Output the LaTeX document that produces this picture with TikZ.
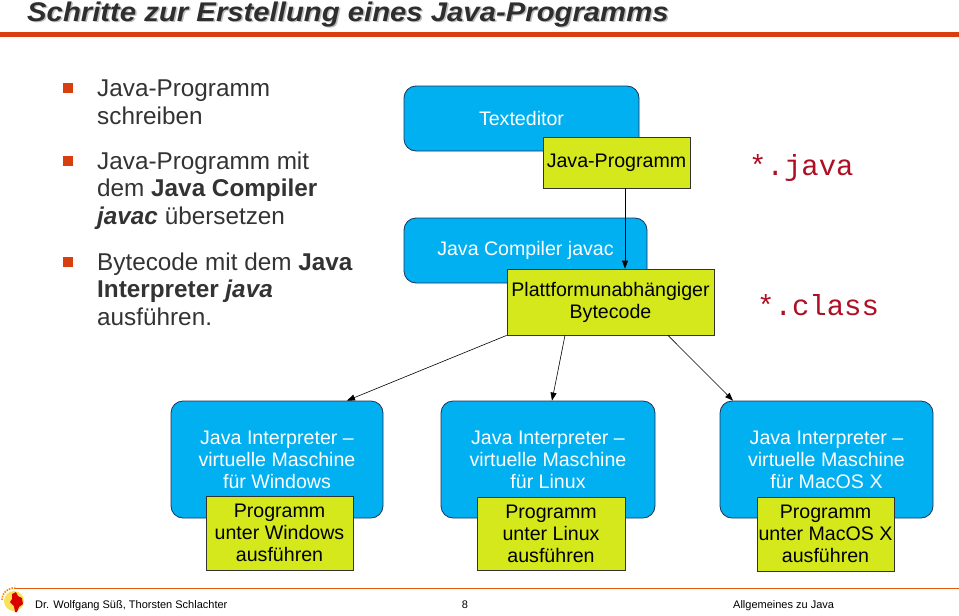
\documentclass[tikz,border=0pt]{standalone}
\usepackage{fontspec}
\setmainfont{Liberation Sans}
\setmonofont{Liberation Mono}
\newfontfamily\titlefont[FakeStretch=1.085]{Liberation Sans}
\usetikzlibrary{arrows.meta}
\definecolor{boxblue}{RGB}{0,176,240}
\definecolor{boxyellow}{RGB}{212,232,28}
\definecolor{orangered}{RGB}{216,62,14}
\definecolor{txtgray}{RGB}{51,51,51}
\definecolor{extred}{RGB}{175,15,35}
\definecolor{navyline}{RGB}{30,50,90}
\definecolor{sunyellow}{RGB}{250,225,90}
\begin{document}
\begin{tikzpicture}[x=1pt,y=-1pt,
 bluebox/.style={draw=navyline, line width=0.8pt, fill=boxblue, rounded corners=12pt, inner sep=0pt},
 yelbox/.style={draw=black!80, line width=0.8pt, fill=boxyellow, inner sep=0pt, align=center, font=\fontsize{19.6}{22}\selectfont},
 whitetxt/.style={text=white, align=center, font=\fontsize{19.6}{22}\selectfont, inner sep=0pt},
 arr/.style={-{Triangle[length=8pt,width=6pt]}, line width=0.6pt},
 bul/.style={fill=orangered, minimum size=10pt, inner sep=0pt},
 bultxt/.style={anchor=base west, align=left, inner sep=0pt, text=txtgray, font=\fontsize{24.3}{27.5}\selectfont},
 ext/.style={anchor=base west, inner sep=0pt, text=extred, font=\ttfamily\fontsize{29}{32}\selectfont},
 foot/.style={anchor=base, inner sep=0pt, font=\fontsize{11}{13}\selectfont}]
\useasboundingbox (0,0) rectangle (959,616);
\fill[white] (0,0) rectangle (959,616);
% title
\node[anchor=base west, inner sep=0pt, text=gray!50, font=\titlefont\fontsize{27}{30}\selectfont\bfseries\itshape] (titleshadow) at (28.5,22.5) {Schritte zur Erstellung eines Java-Programms};
\node[anchor=base west, inner sep=0pt, text=txtgray!90!black, font=\titlefont\fontsize{27}{30}\selectfont\bfseries\itshape] (title) at (27,21) {Schritte zur Erstellung eines Java-Programms};
\fill[orangered] (0,32) rectangle (959,37);
% bullets
\node[bul] (b1) at (68,88) {};
\node[bultxt] (t1) at (97,124) {Java-Programm\\schreiben};
\node[bul] (b2) at (68,161) {};
\node[bultxt] (t2) at (97,224) {Java-Programm mit\\dem \textbf{Java Compiler}\\\textbf{\textit{javac}} übersetzen};
\node[bul] (b3) at (68,262) {};
\node[bultxt] (t3) at (97,325) {Bytecode mit dem \textbf{Java}\\\textbf{Interpreter \textit{java}}\\ausführen.};
% upper boxes
\node[bluebox, whitetxt, minimum width=235pt, minimum height=65pt] (ted) at (521.5,118.5) {Texteditor};
\node[yelbox, minimum width=147pt, minimum height=51pt] (jp) at (616.5,162.5) {Java-Programm};
\node[bluebox, whitetxt, minimum width=243pt, minimum height=65pt] (jc) at (525.5,250.5) {Java Compiler javac};
\node[yelbox, minimum width=207pt, minimum height=66pt] (bc) at (610.5,302) {Plattformunabhängiger\\Bytecode};
% lower boxes
\node[bluebox, minimum width=212pt, minimum height=117pt] (win) at (277,459.5) {};
\node[whitetxt] (winT) at (277,460) {Java Interpreter –\\virtuelle Maschine\\für Windows};
\node[yelbox, minimum width=147pt, minimum height=74pt] (winP) at (279.5,533) {Programm\\unter Windows\\ausführen};
\node[bluebox, minimum width=214pt, minimum height=117pt] (lin) at (548,459.5) {};
\node[whitetxt] (linT) at (548,460) {Java Interpreter –\\virtuelle Maschine\\für Linux};
\node[yelbox, minimum width=148pt, minimum height=73pt] (linP) at (551,533.5) {Programm\\unter Linux\\ausführen};
\node[bluebox, minimum width=213pt, minimum height=117pt] (mac) at (826.5,459.5) {};
\node[whitetxt] (macT) at (826.5,460) {Java Interpreter –\\virtuelle Maschine\\für MacOS X};
\node[yelbox, minimum width=137pt, minimum height=74pt] (macP) at (825.5,534) {Programm\\unter MacOS X\\ausführen};
% arrows
\draw[arr] ([xshift=8.5pt]jp.south) -- ([xshift=14.5pt]bc.north);
\draw[arr] (bc.south west) -- ([xshift=70pt]win.north);
\draw[arr] ([xshift=-45.5pt]bc.south) -- ([xshift=4pt]lin.north);
\draw[arr] ([xshift=57.5pt]bc.south) -- ([xshift=-93.5pt]mac.north);
% file extensions
\node[ext] (extjava) at (749,175) {*.java};
\node[ext] (extclass) at (757,315) {*.class};
% footer
\draw[orangered!85!yellow, line width=1pt] (14,588) -- (959,588);
\fill[sunyellow] (14,601) circle (10pt);
\draw[orange, line width=1.6pt, dash pattern=on 1.5pt off 1.2pt] (2,600) arc (180:80:12pt);
\fill[red!85!black] (12,594) -- (16,592) -- (18,596) -- (22,598) -- (23,604) -- (19,607) -- (17,612) -- (15,612) -- (14,606) -- (10,602) -- (12,599) -- cycle;
\node[foot, anchor=base west] (author) at (35,608) {Dr. Wolfgang Süß, Thorsten Schlachter};
\node[foot] (page) at (465,608) {8};
\node[foot, anchor=base west] (topic) at (733,608) {Allgemeines zu Java};
\end{tikzpicture}
\end{document}
